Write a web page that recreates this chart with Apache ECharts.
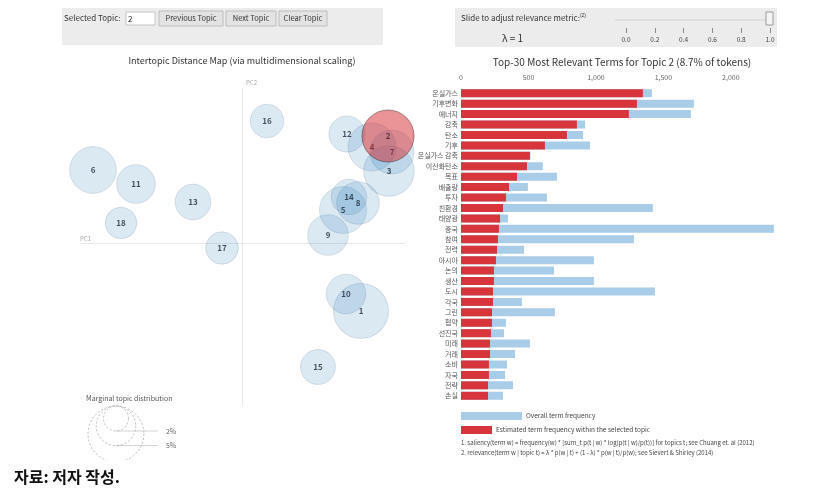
<!DOCTYPE html>
<html><head><meta charset="utf-8">
<script src="https://cdn.jsdelivr.net/npm/echarts@6/dist/echarts.min.js"></script>
<style>html,body{margin:0;padding:0;background:#fff}#c{width:820px;height:497px}</style>
</head><body><div id="c"></div>
<script>
// ---- Intertopic distance map data ----
const topicIds   = [1,2,3,4,5,6,7,8,9,10,11,12,13,14,15,16,17,18];
const topicPC1   = [0.119,0.146,0.147,0.130,0.101,-0.149,0.150,0.116,0.086,0.104,-0.106,0.105,-0.049,0.107,0.076,0.025,-0.020,-0.121];
const topicPC2   = [-0.068,0.107,0.072,0.096,0.033,0.073,0.091,0.040,0.008,-0.051,0.059,0.109,0.041,0.046,-0.124,0.122,-0.005,0.020];
const topicShare = [9.7,8.7,8.2,7.4,7.1,7.0,6.2,5.8,5.3,5.0,4.8,4.2,4.1,4.0,3.9,3.6,3.4,3.2]; // % of tokens
const selectedTopic = 2;
const legendShares = [2,5,10];
const legendShareLabels = ['2%','5%'];

// ---- Top-30 relevant terms for topic 2 ----
const terms = ['온실가스','기후변화','에너지','감축','탄소','기후','온실가스 감축','이산화탄소','목표','배출량','투자','친환경','태양광','중국','참여','전력','아시아','논의','생산','도시','각국','그린','협약','선진국','미래','거래','소비','자국','전략','손실'];
const overallFreq = [1415,1726,1704,919,905,956,515,607,711,496,637,1422,348,2319,1282,467,985,689,985,1437,452,696,333,319,511,400,341,326,385,311];
const topicFreq   = [1348,1304,1244,859,785,622,511,489,415,356,333,311,289,281,274,267,259,244,244,237,237,230,230,222,215,215,207,207,200,200];
const freqTicks   = [0,500,1000,1500,2000];
const lambdaTicks = [0.0,0.2,0.4,0.6,0.8,1.0];
const lambdaValue = 1;

const FONT = '"Noto Sans CJK KR","Noto Sans",sans-serif';
const K = 8.84; // radius px per sqrt(% share)

const others = [], sel = [];
topicIds.forEach((id,i)=>{
  const d = [topicPC1[i], topicPC2[i], topicShare[i], id];
  (id===selectedTopic ? sel : others).push(d);
});

const chart = echarts.init(document.getElementById('c'));

// legend circles (marginal topic distribution)
const rL = legendShares.map(s=>K*Math.sqrt(s));
const lgTop = 406, lgCx = 78 + 10 + rL[2], lgCx2 = lgCx + 1.5*rL[2];
const legendGraphics = [];
rL.forEach((r,i)=>{
  legendGraphics.push({type:'circle', shape:{cx:lgCx, cy:lgTop + r, r:r}, style:{fill:'none', stroke:'#aaa', lineDash:[2,2], lineWidth:0.8}, z:5});
  legendGraphics.push({type:'line', shape:{x1:lgCx, y1:lgTop+2*r, x2:lgCx2, y2:lgTop+2*r}, style:{stroke:'#888', opacity:0.35}, z:5});
  if (legendShareLabels[i]) legendGraphics.push({type:'text', x:lgCx2+8, y:lgTop+2*r, style:{text:legendShareLabels[i], fontSize:7, fill:'#666', verticalAlign:'middle', fontFamily:FONT}, z:5});
});

chart.setOption({
  animation:false,
  textStyle:{fontFamily:FONT},
  grid:[
    {left:80, right:820-405, top:88, bottom:497-405},
    {left:461, right:46, top:88, bottom:96},
    {left:626, width:144, top:28, height:5}
  ],
  xAxis:[
    {gridIndex:0, type:'value', min:-0.162, max:0.163, axisLine:{onZero:true, lineStyle:{color:'#e9e9e9', width:1}}, axisTick:{show:false}, axisLabel:{show:false}, splitLine:{show:false}},
    {gridIndex:1, type:'value', position:'top', min:freqTicks[0], max:2320, interval:freqTicks[1]-freqTicks[0],
     axisLine:{show:false}, axisTick:{show:false}, splitLine:{show:false},
     axisLabel:{fontSize:7, color:'#666', margin:7, showMaxLabel:false, formatter:v=>v.toLocaleString('en-US')}},
    {gridIndex:2, type:'value', min:lambdaTicks[0], max:lambdaTicks[lambdaTicks.length-1], interval:lambdaTicks[1]-lambdaTicks[0],
     axisLine:{show:false}, axisTick:{show:true, inside:true, length:5, lineStyle:{color:'#888'}}, splitLine:{show:false},
     axisLabel:{fontSize:6.5, color:'#444', margin:3, showMinLabel:true, showMaxLabel:true, formatter:v=>v.toFixed(1)}}
  ],
  yAxis:[
    {gridIndex:0, type:'value', min:-0.162, max:0.155, axisLine:{onZero:true, lineStyle:{color:'#e9e9e9', width:1}}, axisTick:{show:false}, axisLabel:{show:false}, splitLine:{show:false}},
    {gridIndex:1, type:'category', inverse:true, data:terms, axisLine:{show:false}, axisTick:{show:false},
     axisLabel:{fontSize:7, color:'#555', margin:3, interval:0}},
    {gridIndex:2, type:'value', show:false}
  ],
  series:[
    {type:'scatter', xAxisIndex:0, yAxisIndex:0, clip:false, data:others,
     symbolSize:v=>2*K*Math.sqrt(v[2]),
     itemStyle:{color:'rgba(31,119,180,0.2)', borderColor:'rgba(40,70,110,0.18)', borderWidth:1},
     label:{show:true, position:'inside', formatter:p=>p.value[3], fontSize:8, fontWeight:'bold', color:'#1b2633'},
     z:2},
    {type:'scatter', xAxisIndex:0, yAxisIndex:0, clip:false, data:sel,
     symbolSize:v=>2*K*Math.sqrt(v[2]),
     itemStyle:{color:'rgba(214,39,40,0.62)', borderColor:'rgba(0,0,0,0.45)', borderWidth:1},
     label:{show:true, position:'inside', formatter:p=>p.value[3], fontSize:8, fontWeight:'bold', color:'#3a1a24'},
     z:3},
    {type:'bar', xAxisIndex:1, yAxisIndex:1, data:overallFreq, barWidth:8, barGap:'-100%',
     itemStyle:{color:'#a9cce8'}, silent:true},
    {type:'bar', xAxisIndex:1, yAxisIndex:1, data:topicFreq, barWidth:8, barGap:'-100%',
     itemStyle:{color:'#d8343c'}, silent:true}
  ],
  graphic:[
    // left control panel
    {type:'rect', shape:{x:62,y:8,width:321,height:37}, style:{fill:'#ececec'}, z:0},
    {type:'text', x:64, y:18, style:{text:'Selected Topic:', fontSize:8, fill:'#333', verticalAlign:'middle', fontFamily:FONT}},
    {type:'rect', shape:{x:126,y:12,width:29,height:13}, style:{fill:'#fff', stroke:'#c4c4c4'}},
    {type:'text', x:128, y:18.5, style:{text:String(selectedTopic), fontSize:8, fill:'#222', verticalAlign:'middle', fontFamily:FONT}},
    {type:'rect', shape:{x:159,y:11,width:64,height:15}, style:{fill:'#e3e3e3', stroke:'#bdbdbd'}},
    {type:'text', x:191, y:18.5, style:{text:'Previous Topic', fontSize:7.5, fill:'#333', align:'center', verticalAlign:'middle', fontFamily:FONT}},
    {type:'rect', shape:{x:226,y:11,width:50,height:15}, style:{fill:'#e3e3e3', stroke:'#bdbdbd'}},
    {type:'text', x:251, y:18.5, style:{text:'Next Topic', fontSize:7.5, fill:'#333', align:'center', verticalAlign:'middle', fontFamily:FONT}},
    {type:'rect', shape:{x:279,y:11,width:48,height:15}, style:{fill:'#e3e3e3', stroke:'#bdbdbd'}},
    {type:'text', x:303, y:18.5, style:{text:'Clear Topic', fontSize:7.5, fill:'#333', align:'center', verticalAlign:'middle', fontFamily:FONT}},
    // right control panel
    {type:'rect', shape:{x:455,y:8,width:322,height:39}, style:{fill:'#ececec'}, z:0},
    {type:'text', x:461, y:18, style:{text:'Slide to adjust relevance metric:{s|(2)}', fontSize:8, fill:'#333', verticalAlign:'middle', fontFamily:FONT, rich:{s:{fontSize:5, fill:'#333', verticalAlign:'top', padding:[0,0,4,0]}}}},
    {type:'text', x:502, y:38, style:{text:'λ = '+lambdaValue, fontSize:10, fill:'#333', verticalAlign:'middle', fontFamily:FONT}},
    {type:'line', shape:{x1:615,y1:20,x2:768,y2:20}, style:{stroke:'#d2d2d2', lineWidth:1}},
    {type:'rect', shape:{x:766,y:12,width:7,height:13}, style:{fill:'#f4f4f4', stroke:'#9a9a9a'}},
    // titles
    {type:'text', x:242, y:61, style:{text:'Intertopic Distance Map (via multidimensional scaling)', fontSize:9, fill:'#333', align:'center', verticalAlign:'middle', fontFamily:FONT}},
    {type:'text', x:622, y:62, style:{text:'Top-30 Most Relevant Terms for Topic 2 (8.7% of tokens)', fontSize:10, fill:'#333', align:'center', verticalAlign:'middle', fontFamily:FONT}},
    {type:'text', x:246, y:83, style:{text:'PC2', fontSize:6, fill:'#aaa', verticalAlign:'middle', fontFamily:FONT}},
    {type:'text', x:80, y:239, style:{text:'PC1', fontSize:6, fill:'#aaa', verticalAlign:'middle', fontFamily:FONT}},
    // marginal topic distribution legend
    {type:'text', x:86, y:398, style:{text:'Marginal topic distribution', fontSize:7, fill:'#555', verticalAlign:'middle', fontFamily:FONT}},
    ...legendGraphics,
    // bar legend
    {type:'rect', shape:{x:461,y:412,width:61,height:8}, style:{fill:'#a9cce8'}},
    {type:'text', x:526, y:416, style:{text:'Overall term frequency', fontSize:6.5, fill:'#444', verticalAlign:'middle', fontFamily:FONT}},
    {type:'rect', shape:{x:461,y:426,width:31,height:8}, style:{fill:'#d8343c'}},
    {type:'text', x:496, y:430, style:{text:'Estimated term frequency within the selected topic', fontSize:6.5, fill:'#444', verticalAlign:'middle', fontFamily:FONT}},
    {type:'text', x:461, y:443, style:{text:'1. saliency(term w) = frequency(w) * [sum_t p(t | w) * log(p(t | w)/p(t))] for topics t; see Chuang et. al (2012)', fontSize:6, fill:'#444', verticalAlign:'middle', fontFamily:FONT}},
    {type:'text', x:461, y:453, style:{text:'2. relevance(term w | topic t) = λ * p(w | t) + (1 - λ) * p(w | t)/p(w); see Sievert & Shirley (2014)', fontSize:6, fill:'#444', verticalAlign:'middle', fontFamily:FONT}},
    // crop boundary & source
    {type:'rect', shape:{x:0,y:460,width:820,height:37}, style:{fill:'#fff'}, z:50},
    {type:'text', x:14, y:477, style:{text:'자료: 저자 작성.', fontSize:16, fontWeight:'bold', fill:'#111', verticalAlign:'middle', fontFamily:FONT}, z:51}
  ]
});
</script>
</body></html>
